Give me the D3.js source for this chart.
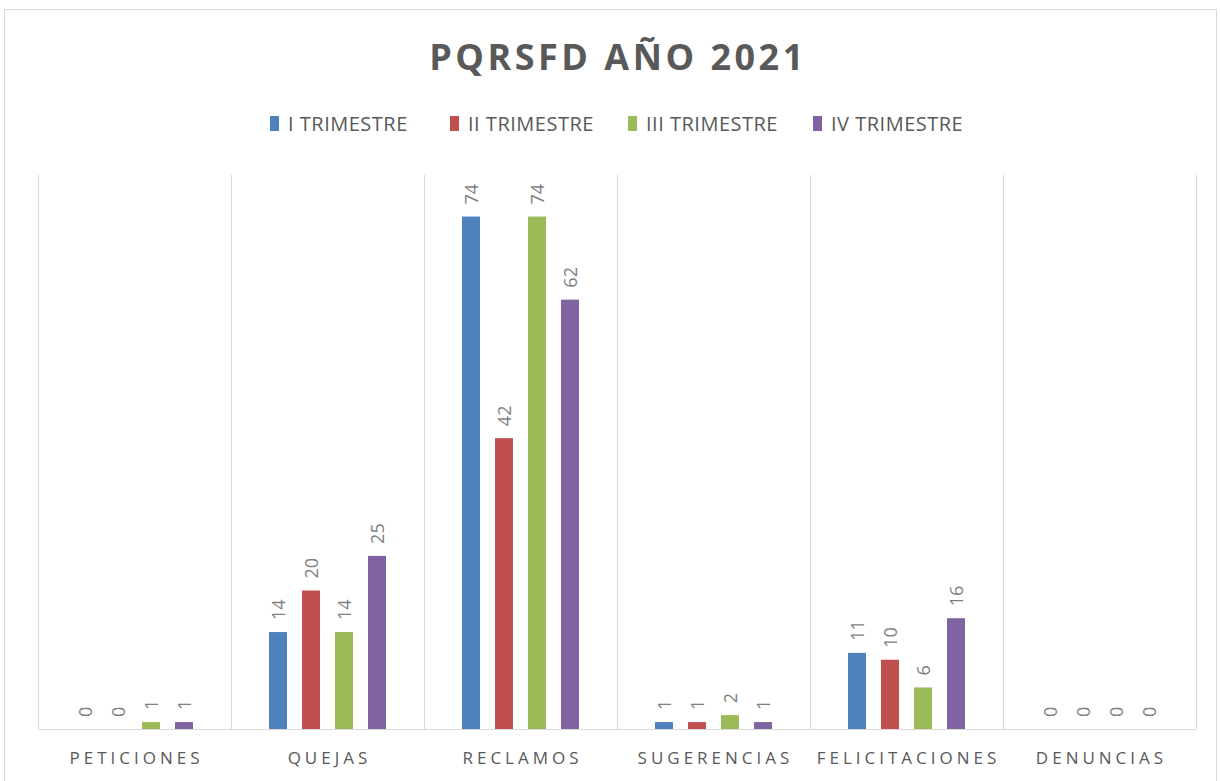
<!DOCTYPE html>
<html>
<head>
<meta charset="utf-8">
<script src="https://cdn.jsdelivr.net/npm/d3@7"></script>
<style>
  body { margin: 0; background: #fff; }
  svg text { font-family: "Open Sans", "Noto Sans", sans-serif; fill: #595959; }
</style>
</head>
<body>
<svg id="chart" width="1220" height="781"></svg>
<script>
const categories = ["PETICIONES", "QUEJAS", "RECLAMOS", "SUGERENCIAS", "FELICITACIONES", "DENUNCIAS"];
const series = ["I TRIMESTRE", "II TRIMESTRE", "III TRIMESTRE", "IV TRIMESTRE"];
const colors = ["#4f81bd", "#c0504d", "#9bbb59", "#8064a2"];
const trim1 = [0, 14, 74, 1, 11, 0];
const trim2 = [0, 20, 42, 1, 10, 0];
const trim3 = [1, 14, 74, 2, 6, 0];
const trim4 = [1, 25, 62, 1, 16, 0];
const values = [trim1, trim2, trim3, trim4];

const svg = d3.select("#chart");

// chart frame
svg.append("rect")
  .attr("x", 4.5).attr("y", 9.5)
  .attr("width", 1212).attr("height", 790)
  .attr("fill", "none")
  .attr("stroke", "#d9d9d9");

const plot = { left: 38, right: 1196, top: 175, bottom: 729 };

const x0 = d3.scaleBand()
  .domain(categories)
  .range([plot.left, plot.right]);

const x1 = d3.scaleBand()
  .domain(series)
  .range([38, x0.bandwidth() - 38])
  .paddingInner(15 / 33);

const y = d3.scaleLinear()
  .domain([0, 80])
  .range([plot.bottom, plot.top]);

// vertical gridlines between categories
const edges = categories.map(c => x0(c)).concat([plot.right]);
svg.append("g").selectAll("line")
  .data(edges)
  .enter()
  .append("line")
  .attr("x1", d => Math.round(d) + 0.5)
  .attr("x2", d => Math.round(d) + 0.5)
  .attr("y1", plot.top)
  .attr("y2", plot.bottom)
  .attr("stroke", "#d9d9d9");

// bars
const groups = svg.append("g").selectAll("g")
  .data(categories)
  .enter()
  .append("g")
  .attr("transform", c => `translate(${x0(c)},0)`);

const cells = groups.selectAll("g")
  .data((c, i) => series.map((s, j) => ({ s: s, v: values[j][i], color: colors[j] })))
  .enter()
  .append("g");

cells.append("rect")
  .attr("x", d => x1(d.s))
  .attr("width", x1.bandwidth())
  .attr("y", d => y(d.v))
  .attr("height", d => plot.bottom - y(d.v))
  .attr("fill", d => d.color);

cells.append("text")
  .attr("transform", d => `translate(${x1(d.s) + x1.bandwidth() / 2 + 7},${y(d.v) - 12}) rotate(-90)`)
  .attr("font-size", 18)
  .style("fill", "#7f7f7f")
  .text(d => d.v);

// baseline
svg.append("line")
  .attr("x1", plot.left).attr("x2", plot.right)
  .attr("y1", plot.bottom + 0.5).attr("y2", plot.bottom + 0.5)
  .attr("stroke", "#d9d9d9");

// category labels
svg.append("g").selectAll("text")
  .data(categories)
  .enter()
  .append("text")
  .attr("x", c => x0(c) + x0.bandwidth() / 2 + 2)
  .attr("y", 764)
  .attr("text-anchor", "middle")
  .attr("font-size", 17)
  .attr("letter-spacing", 4)
  .text(c => c);

// title
svg.append("text")
  .attr("x", 618)
  .attr("y", 70)
  .attr("text-anchor", "middle")
  .attr("font-size", 36)
  .attr("font-weight", "bold")
  .attr("letter-spacing", 3.5)
  .text("PQRSFD AÑO 2021");

// legend
const legendX = [270, 450, 628, 813];
const legend = svg.append("g").selectAll("g")
  .data(series)
  .enter()
  .append("g")
  .attr("transform", (s, i) => `translate(${legendX[i]},116)`);

legend.append("rect")
  .attr("width", 9).attr("height", 15)
  .attr("fill", (s, i) => colors[i]);

legend.append("text")
  .attr("x", 18)
  .attr("y", 15)
  .attr("font-size", 20)
  .attr("letter-spacing", 0.5)
  .text(s => s);
</script>
</body>
</html>
